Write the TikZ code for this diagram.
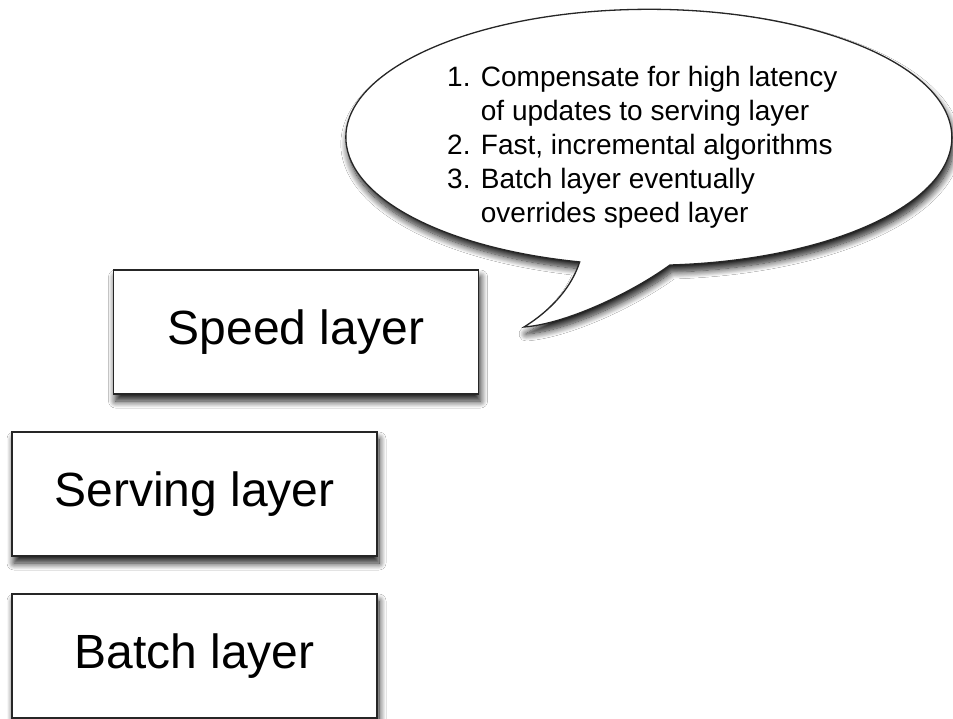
\documentclass[tikz,border=0pt]{standalone}
\usepackage{fontspec}
\setmainfont{Liberation Sans}
\usetikzlibrary{shadows.blur}

\tikzset{
  dropshadow/.style={blur shadow={shadow xshift=2pt, shadow yshift=-7pt,
      shadow blur radius=7pt, shadow blur steps=12, shadow opacity=90}},
  layerbox/.style={draw=black!85, line width=1.6pt, fill=white,
    minimum width=365pt, minimum height=124pt, inner sep=0pt,
    font=\fontsize{48}{56}\selectfont, dropshadow},
  bubble/.style={draw=black!85, line width=1.3pt, fill=white, dropshadow},
}

\begin{document}
\begin{tikzpicture}[x=1pt, y=-1pt]
  \useasboundingbox[fill=white] (0,0) rectangle (953,719);

  % the three layers
  \node[layerbox] (speed)   at (296,332)   {Speed layer};
  \node[layerbox] (serving) at (194.5,494) {Serving layer};
  \node[layerbox] (batch)   at (194.5,656) {Batch layer};

  % speech bubble with its tail pointing at the speed layer
  \coordinate (tailR) at (670,265);
  \coordinate (tailL) at (580,262);
  \coordinate (tip)   at (524,327);
  \path[bubble] (tailR)
      arc[start angle=86, end angle=-256.8, x radius=303, y radius=128]
      .. controls (572,286) and (553,309) .. (tip)
      .. controls (565,324) and (630,294) .. (tailR) -- cycle;

  \node[anchor=base west, inner sep=0pt] (notes) at (447,87)
    {\fontsize{28}{34}\selectfont
     \begin{tabular}[t]{@{}l@{ }l@{}}
       1. & Compensate for high latency\\
          & of updates to serving layer\\
       2. & Fast, incremental algorithms\\
       3. & Batch layer eventually\\
          & overrides speed layer
     \end{tabular}};
\end{tikzpicture}
\end{document}
